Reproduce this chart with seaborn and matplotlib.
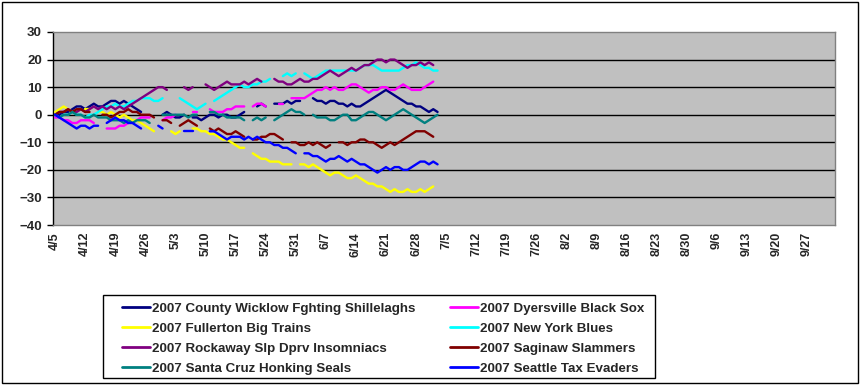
import numpy as np
import pandas as pd
import matplotlib
matplotlib.use('Agg')
import matplotlib.pyplot as plt
import seaborn as sns
from matplotlib.lines import Line2D
from matplotlib.patches import Rectangle

N = np.nan

# games above/below .500, one value per day starting 4/5 (NaN = no line that day)
teams = ['2007 County Wicklow Fghting Shillelaghs', '2007 Dyersville Black Sox',
         '2007 Fullerton Big Trains', '2007 New York Blues',
         '2007 Rockaway Slp Dprv Insomniacs', '2007 Saginaw Slammers',
         '2007 Santa Cruz Honking Seals', '2007 Seattle Tax Evaders']
colors = ['#000080', '#FF00FF', '#FFFF00', '#00FFFF',
          '#800080', '#800000', '#008080', '#0000FF']

wicklow = [0, 0, 1, 1, 2, 3, 3, 2, 3, 4,
           3, 3, 4, 5, 5, 4, 5, 4, 3, 2,
           1, N, N, N, N, 0, 1, 0, -1, -1,
           0, N, -1, -1, -2, -1, 0, 0, -1, 0,
           0, -1, -1, 0, 1, N, N, 3, 4, 3,
           N, 4, 4, 4, 5, 4, 5, 5, N, N,
           6, 5, 5, 4, 5, 5, 4, 4, 3, 4,
           3, 3, 4, 5, 6, 7, 8, 9, 8, 7,
           6, 5, 4, 4, 3, 3, 2, 1, 2, 1]
dyersville = [-1, -1, -2, -2, -3, -3, -2, -2, -2, -3,
              N, N, -5, -5, -5, -4, -4, -3, -2, -2,
              -1, -1, -1, N, N, -2, -1, -1, 0, N,
              N, N, 1, 1, N, N, 2, 1, 1, 1,
              2, 2, 3, 3, 3, N, 3, 4, 4, 3,
              N, N, 4, 4, N, 6, 6, 6, 6, 7,
              8, 9, 9, 10, 9, 10, 9, 9, 10, 11,
              11, 10, 9, 8, 9, 9, 10, 10, 9, 9,
              10, 11, 10, 9, 9, 9, 10, 11, 12, N]
fullerton = [1, 2, 3, 2, 1, N, N, 2, 2, N,
             1, 1, 0, 1, 0, -1, 0, -1, -2, -2,
             -3, -4, -5, -6, N, N, N, -6, -7, -6,
             N, N, -5, -5, -6, -6, -7, -7, -8, -9,
             -9, -10, -11, -12, -12, N, -14, -15, -16, -16,
             -17, -17, -17, -18, -18, -18, N, -18, -18, -19,
             -18, -19, -20, -21, -22, -21, -21, -22, -23, -23,
             -22, -23, -24, -25, -25, -26, -26, -27, -28, -27,
             -28, -28, -27, -28, -28, -27, -28, -27, -26, N]
new_york = [0, -1, 0, 0, 1, 0, 0, -1, 0, 0,
            1, 2, 3, 3, 4, 3, 3, 4, 5, 5,
            6, 6, 6, 5, 5, 6, N, N, N, 6,
            5, 4, 3, 2, 3, 4, N, 5, 6, 7,
            8, 9, 10, 11, 10, 10, 11, 11, 12, 12,
            13, N, N, 14, 15, 14, 15, N, 15, 14,
            13, 14, 15, 16, 16, 16, 16, 16, 16, 16,
            16, 17, 18, 18, 18, 17, 16, 16, 16, 16,
            16, 17, 18, 18, 19, 18, 17, 17, 16, 16]
rockaway = [0, 1, 1, 2, 1, 1, 2, 1, 2, 3,
            2, 3, 2, 3, 2, 3, 2, 3, 4, 5,
            6, 7, 8, 9, 10, 10, 9, N, N, N,
            10, 9, 10, N, N, 11, 10, 9, 10, 11,
            12, 11, 11, 11, 12, 11, 12, 13, 12, N,
            N, 13, 12, 12, 11, 11, 12, 13, 12, 12,
            13, 13, 14, 15, 16, 15, 14, 15, 16, 17,
            16, 17, 18, 18, 19, 20, 20, 19, 20, 20,
            19, 18, 17, 18, 18, 19, 18, 19, 18, N]
saginaw = [0, 1, 1, 2, 1, 2, 2, 1, 1, N,
           N, 0, 0, -1, 0, 1, 1, 2, 1, 1,
           0, 0, 0, -1, N, -2, -2, -3, N, -4,
           -3, -2, -3, -4, N, N, -5, -6, -5, -6,
           -7, -7, -6, -7, -8, N, -9, -9, -8, -8,
           -7, -7, -8, -9, N, -10, -10, -11, -11, -10,
           -11, -10, -11, -12, -11, N, -10, -10, -11, -10,
           -10, -9, -9, -10, -10, -11, -12, -11, -10, -11,
           -10, -9, -8, -7, -6, -6, -6, -7, -8, N]
santa_cruz = [0, -1, 0, 0, 1, 0, 0, -1, -1, 0,
              -1, -1, -1, -2, -2, -2, -3, -2, -3, -2,
              -2, -2, -3, N, N, 0, 0, 0, 0, 0,
              0, -1, 0, 0, N, N, 1, 1, 0, 0,
              -1, -1, -1, -1, -2, N, -2, -1, -2, -1,
              N, -2, -1, 0, 1, 2, 1, 1, 0, N,
              0, -1, -1, -1, -2, -2, -1, 0, 0, -2,
              -2, -1, 0, 1, 1, 0, -1, -2, -1, 0,
              1, 2, 1, 0, -1, -2, -3, -2, -1, 0]
seattle = [0, -1, -2, -3, -4, -5, -4, -4, -5, -4,
           -4, N, -3, -2, -1, -2, -2, -3, -3, -4,
           -5, N, N, N, -4, -5, N, N, N, N,
           -6, -6, -6, N, N, N, -6, -6, -7, -8,
           -9, -8, -8, -8, -9, -8, -9, -8, -9, -10,
           -10, -11, -11, -12, -12, -13, -14, N, -14, -14,
           -15, -15, -16, -17, -16, -16, -15, -16, -17, -16,
           -17, -18, -18, -19, -20, -21, -20, -19, -20, -19,
           -19, -20, -20, -19, -18, -17, -17, -18, -17, -18]

series = [wicklow, dyersville, fullerton, new_york, rockaway, saginaw, santa_cruz, seattle]

tick_labels = ['4/5', '4/12', '4/19', '4/26', '5/3', '5/10', '5/17', '5/24', '5/31',
               '6/7', '6/14', '6/21', '6/28', '7/5', '7/12', '7/19', '7/26', '8/2',
               '8/9', '8/16', '8/23', '8/30', '9/6', '9/13', '9/20', '9/27']
n_days = 182  # category axis runs 4/5 .. 10/3

# long table; a new "seg" starts after every missing day so gaps stay open
rows = []
for team, vals in zip(teams, series):
    seg = 0
    for day, v in enumerate(vals):
        if np.isnan(v):
            seg += 1
            continue
        rows.append({'team': team, 'day': day, 'value': v, 'seg': f'{team}-{seg}'})
df = pd.DataFrame(rows)

sns.set_style('white')
plt.rcParams['font.family'] = ['Liberation Sans', 'DejaVu Sans']
plt.rcParams['font.weight'] = 'bold'

fig = plt.figure(figsize=(8.63, 3.89), dpi=100)
ax = fig.add_axes([53 / 863, 1 - 225 / 389, (835 - 53) / 863, (225 - 32) / 389])
ax.set_facecolor('#C0C0C0')

sns.lineplot(data=df, x='day', y='value', hue='team', hue_order=teams,
             palette=colors, units='seg', estimator=None, sort=False,
             linewidth=1.7, legend=False, ax=ax, zorder=3)

ax.set_xlim(-0.5, n_days - 0.5)
ax.set_ylim(-40, 30)
ax.set_yticks(range(-40, 31, 10))
ax.set_xticks(range(0, 7 * len(tick_labels), 7))
ax.set_xticklabels(tick_labels, rotation=90, fontsize=9, fontweight='bold')
ax.tick_params(axis='y', labelsize=9.5, length=4, width=1, color='black',
               direction='out', left=True, pad=4)
ax.tick_params(axis='x', length=0, pad=5)
for lab in ax.get_yticklabels():
    lab.set_fontweight('bold')
ax.set_xlabel('')
ax.set_ylabel('')

for y in range(-30, 30, 10):
    ax.axhline(y, color='black', linewidth=1, zorder=1)

ax.spines['left'].set_color('black')
ax.spines['left'].set_linewidth(1)
for s in ['top', 'right', 'bottom']:
    ax.spines[s].set_color('#808080')
    ax.spines[s].set_linewidth(1)

# legend laid out row by row like the original (2 columns); frame drawn separately
handles = [Line2D([0], [0], color=c, linewidth=2) for c in colors]
order = [0, 2, 4, 6, 1, 3, 5, 7]
leg = fig.legend([handles[i] for i in order], [teams[i] for i in order],
                 ncol=2, loc='upper left', bbox_to_anchor=(122 / 863, 1 - 302.5 / 389),
                 frameon=False, prop={'size': 9.6, 'weight': 'bold'},
                 handlelength=2.1, handletextpad=0.15, columnspacing=2.6,
                 borderpad=0, labelspacing=0.58, borderaxespad=0)
fig.patches.append(Rectangle((103 / 863, 1 - 378 / 389), 552 / 863, 83 / 389,
                             transform=fig.transFigure, fill=False,
                             edgecolor='black', linewidth=1))

# outer chart border
fig.patches.append(Rectangle((1.5 / 863, 1 - 383 / 389), 856 / 863, 381 / 389,
                             transform=fig.transFigure, fill=False,
                             edgecolor='black', linewidth=1))

fig.savefig('out.png', dpi=100)
